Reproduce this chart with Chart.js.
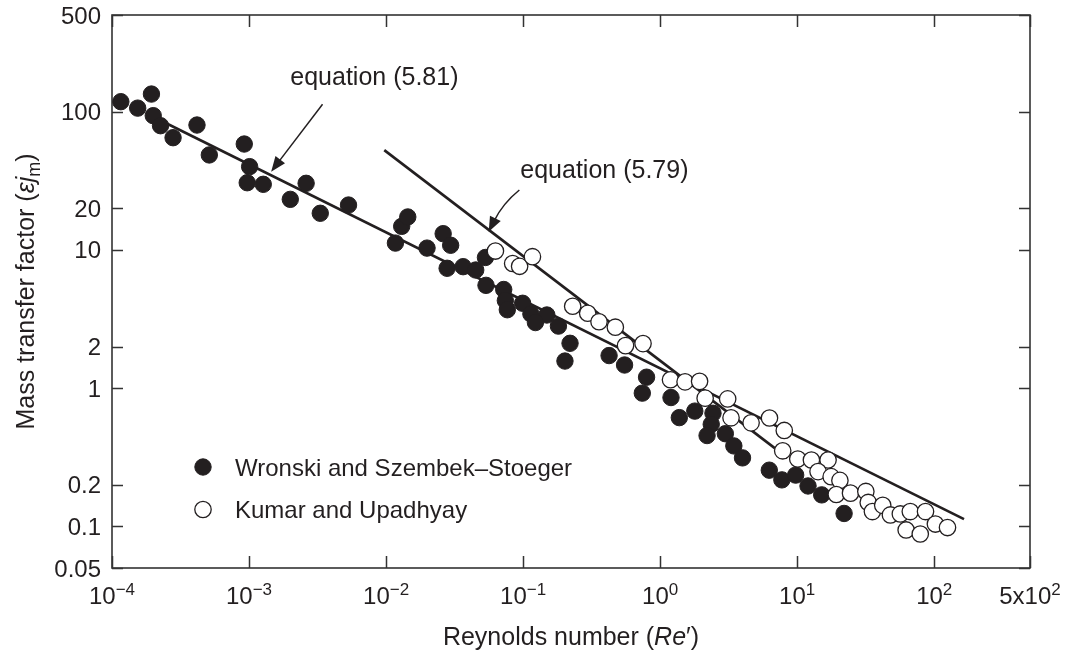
<!DOCTYPE html>
<html>
<head>
<meta charset="utf-8">
<script src="https://cdn.jsdelivr.net/npm/chart.js@4.4.0/dist/chart.umd.min.js"></script>
<style>
  html, body { margin: 0; padding: 0; background: #fff; }
  #wrap { width: 1072px; height: 655px; }
</style>
</head>
<body>
<div id="wrap"><canvas id="chart" width="1072" height="655"></canvas></div>
<script>
// Wronski and Szembek-Stoeger data (filled circles)
const wronskiRe = [1.16e-4, 1.54e-4, 1.94e-4, 2.00e-4, 2.26e-4, 2.79e-4, 4.17e-4, 5.13e-4, 9.23e-4, 1.01e-3,
  9.70e-4, 1.27e-3, 2.00e-3, 2.61e-3, 3.31e-3, 5.32e-3, 0.0117, 0.0130, 0.0144, 0.0199,
  0.0261, 0.0296, 0.0279, 0.0365, 0.0451, 0.0531, 0.0536, 0.0722, 0.0742, 0.0767,
  0.0992, 0.114, 0.149, 0.123, 0.181, 0.220, 0.202, 0.424, 0.550, 0.796,
  0.741, 1.20, 1.38, 1.79, 2.43, 2.36, 2.20, 2.99, 3.45, 3.99,
  6.26, 7.73, 9.75, 12.0, 15.1, 22.0];
const wronskiJ = [118, 106, 134, 93.5, 79.1, 64.8, 80.0, 48.6, 58.3, 40.0,
  30.6, 29.8, 23.2, 30.3, 18.4, 21.1, 11.2, 14.8, 17.3, 10.3,
  13.1, 10.8, 7.36, 7.56, 7.15, 8.81, 5.54, 5.17, 4.30, 3.69,
  4.11, 3.44, 3.38, 2.98, 2.81, 2.11, 1.57, 1.72, 1.47, 1.20,
  0.920, 0.855, 0.612, 0.682, 0.658, 0.547, 0.454, 0.468, 0.382, 0.313,
  0.255, 0.217, 0.235, 0.196, 0.169, 0.124];

// Kumar and Upadhyay data (open circles)
const kumarRe = [0.0628, 0.0839, 0.0943, 0.117, 0.230, 0.296, 0.358, 0.471, 0.559, 0.750,
  1.19, 1.52, 1.94, 2.13, 3.11, 3.29, 4.61, 6.28, 8.05, 7.84,
  10.1, 12.7, 16.8, 14.2, 17.7, 20.5, 19.3, 24.5, 31.7, 33.0,
  35.4, 42.1, 47.9, 56.6, 66.9, 62.4, 79.1, 86.4, 102, 125];
const kumarJ = [9.81, 7.97, 7.61, 8.93, 3.91, 3.48, 3.02, 2.76, 2.03, 2.10,
  1.15, 1.11, 1.12, 0.846, 0.836, 0.610, 0.561, 0.608, 0.494, 0.352,
  0.307, 0.302, 0.302, 0.249, 0.229, 0.215, 0.170, 0.174, 0.179, 0.149,
  0.128, 0.142, 0.121, 0.123, 0.128, 0.0942, 0.0881, 0.128, 0.104, 0.0981];

// Correlation lines (end points)
const eq581Re = [2.55e-4, 165];
const eq581J = [81.4, 0.113];
const eq579Re = [0.0097, 8.5];
const eq579J = [52.7, 0.313];

// Axis ticks
const xTicks = [1e-4, 1e-3, 1e-2, 1e-1, 1, 10, 100, 500];
const xTickLabels = [['10', '\u22124'], ['10', '\u22123'], ['10', '\u22122'], ['10', '\u22121'],
  ['10', '0'], ['10', '1'], ['10', '2'], ['5x10', '2']];
const yTicks = [0.05, 0.1, 0.2, 1, 2, 10, 20, 100, 500];
const yTickLabels = ['0.05', '0.1', '0.2', '1', '2', '10', '20', '100', '500'];

const INK = '#231f20';
const FONT = '"Liberation Sans", Arial, Helvetica, sans-serif';

function toPoints(xs, ys) {
  return xs.map((x, i) => ({ x: x, y: ys[i] }));
}

function fontStr(size, italic) {
  return (italic ? 'italic ' : '') + size + 'px ' + FONT;
}

// Draws a row of text runs (italic / subscript / superscript) centred on x
function drawRuns(ctx, runs, x, y, size, align) {
  const parts = runs.map(r => {
    const s = (r.sub || r.sup) ? Math.round(size * 0.7) : size;
    ctx.font = fontStr(s, r.italic);
    return { r: r, s: s, w: ctx.measureText(r.t).width };
  });
  const total = parts.reduce((a, p) => a + p.w, 0);
  let cx = align === 'left' ? x : x - total / 2;
  parts.forEach(p => {
    ctx.font = fontStr(p.s, p.r.italic);
    let dy = 0;
    if (p.r.sub) dy = size * 0.22;
    if (p.r.sup) dy = -size * 0.38;
    ctx.fillText(p.r.t, cx, y + dy);
    cx += p.w;
  });
}

function drawArrowHead(ctx, tipX, tipY, fromX, fromY, len, half) {
  const a = Math.atan2(tipY - fromY, tipX - fromX);
  ctx.beginPath();
  ctx.moveTo(tipX, tipY);
  ctx.lineTo(tipX - len * Math.cos(a) + half * Math.sin(a), tipY - len * Math.sin(a) - half * Math.cos(a));
  ctx.lineTo(tipX - len * Math.cos(a) - half * Math.sin(a), tipY - len * Math.sin(a) + half * Math.cos(a));
  ctx.closePath();
  ctx.fill();
}

const figurePlugin = {
  id: 'figureDecor',
  beforeDatasetsDraw(chart) {
    const { ctx, chartArea: a, scales } = chart;
    ctx.save();
    ctx.strokeStyle = '#333';
    ctx.lineWidth = 1.6;
    ctx.strokeRect(a.left, a.top, a.right - a.left, a.bottom - a.top);
    ctx.lineWidth = 1.5;
    ctx.beginPath();
    xTicks.forEach(v => {
      const px = Math.round(scales.x.getPixelForValue(v)) + 0.5;
      ctx.moveTo(px, a.bottom); ctx.lineTo(px, a.bottom - 12);
      ctx.moveTo(px, a.top); ctx.lineTo(px, a.top + 12);
    });
    yTicks.forEach(v => {
      const py = Math.round(scales.y.getPixelForValue(v)) + 0.5;
      ctx.moveTo(a.left, py); ctx.lineTo(a.left + 11, py);
      ctx.moveTo(a.right, py); ctx.lineTo(a.right - 11, py);
    });
    ctx.stroke();
    ctx.restore();
  },
  afterDraw(chart) {
    const { ctx, chartArea: a, scales } = chart;
    const sx = v => scales.x.getPixelForValue(v);
    const sy = v => scales.y.getPixelForValue(v);
    ctx.save();
    ctx.fillStyle = INK;
    ctx.strokeStyle = INK;
    ctx.textBaseline = 'alphabetic';

    // x tick labels: base with raised exponent
    xTicks.forEach((v, i) => {
      const [base, exp] = xTickLabels[i];
      drawRuns(ctx, [{ t: base }, { t: exp, sup: true }], sx(v), a.bottom + 36, 24);
    });

    // y tick labels
    ctx.font = fontStr(24);
    ctx.textAlign = 'right';
    yTicks.forEach((v, i) => {
      ctx.fillText(yTickLabels[i], a.left - 11, sy(v) + 8.6);
    });
    ctx.textAlign = 'left';

    // axis titles
    drawRuns(ctx, [{ t: 'Reynolds number (' }, { t: 'Re', italic: true }, { t: '\u2032)' }],
      (a.left + a.right) / 2, a.bottom + 77, 25);
    ctx.save();
    ctx.translate(25, (a.top + a.bottom) / 2);
    ctx.rotate(-Math.PI / 2);
    drawRuns(ctx, [{ t: 'Mass transfer factor (' }, { t: '\u03b5', italic: true }, { t: 'j', italic: true },
      { t: 'm', sub: true }, { t: ')' }], 0, 9, 25);
    ctx.restore();

    // legend: marker series, filled circles first
    const sets = chart.data.datasets.filter(d => !d.showLine).sort((p, q) => q.order - p.order);
    sets.forEach((d, i) => {
      const cy = a.top + 452 + i * 42.5;
      const cx = a.left + 91;
      ctx.beginPath();
      ctx.arc(cx, cy, d.pointRadius, 0, Math.PI * 2);
      ctx.fillStyle = d.pointBackgroundColor;
      ctx.fill();
      ctx.lineWidth = d.pointBorderWidth;
      ctx.strokeStyle = INK;
      ctx.stroke();
      ctx.fillStyle = INK;
      ctx.font = fontStr(24);
      ctx.fillText(d.label, a.left + 123, cy + 8.6);
    });

    // equation labels and arrows
    ctx.font = fontStr(25);
    ctx.fillText('equation (5.81)', sx(2.0e-3), sy(155.8));
    ctx.fillText('equation (5.79)', sx(0.0954), sy(32.9));

    ctx.lineWidth = 1.5;
    // straight arrow to eq. (5.81)
    const s1 = [sx(3.44e-3), sy(113)], t1 = [sx(1.45e-3), sy(36.8)];
    const a1 = Math.atan2(t1[1] - s1[1], t1[0] - s1[0]);
    ctx.beginPath();
    ctx.moveTo(s1[0], s1[1]);
    ctx.lineTo(t1[0] - 12 * Math.cos(a1), t1[1] - 12 * Math.sin(a1));
    ctx.stroke();
    drawArrowHead(ctx, t1[0], t1[1], s1[0], s1[1], 15, 6);

    // curved arrow to eq. (5.79)
    const s2 = [sx(0.0939), sy(27.1)], c2 = [sx(0.0711), sy(21.7)], t2 = [sx(0.0561), sy(13.5)];
    const a2 = Math.atan2(t2[1] - c2[1], t2[0] - c2[0]);
    ctx.beginPath();
    ctx.moveTo(s2[0], s2[1]);
    ctx.quadraticCurveTo(c2[0], c2[1], t2[0] - 12 * Math.cos(a2), t2[1] - 12 * Math.sin(a2));
    ctx.stroke();
    drawArrowHead(ctx, t2[0], t2[1], c2[0], c2[1], 15, 6);

    ctx.restore();
  }
};

const lineStyle = {
  showLine: true,
  borderColor: INK,
  borderWidth: 2.6,
  pointRadius: 0,
  pointHoverRadius: 0,
  fill: false
};

new Chart(document.getElementById('chart'), {
  type: 'scatter',
  data: {
    datasets: [
      {
        label: 'Kumar and Upadhyay',
        data: toPoints(kumarRe, kumarJ),
        pointRadius: 8.2,
        pointBackgroundColor: '#ffffff',
        pointBorderColor: INK,
        pointBorderWidth: 1.3,
        order: 0
      },
      {
        label: 'Wronski and Szembek\u2013Stoeger',
        data: toPoints(wronskiRe, wronskiJ),
        pointRadius: 8.2,
        pointBackgroundColor: INK,
        pointBorderColor: INK,
        pointBorderWidth: 1,
        order: 1
      },
      Object.assign({ label: 'equation (5.81)', data: toPoints(eq581Re, eq581J), order: 2 }, lineStyle),
      Object.assign({ label: 'equation (5.79)', data: toPoints(eq579Re, eq579J), order: 3 }, lineStyle)
    ]
  },
  options: {
    responsive: false,
    animation: false,
    clip: false,
    layout: { padding: { left: 112, top: 15, right: 42, bottom: 87 } },
    scales: {
      x: { type: 'logarithmic', min: 1e-4, max: 500, display: false },
      y: { type: 'logarithmic', min: 0.05, max: 500, display: false }
    },
    plugins: {
      legend: { display: false },
      tooltip: { enabled: false }
    }
  },
  plugins: [figurePlugin]
});
</script>
</body>
</html>
